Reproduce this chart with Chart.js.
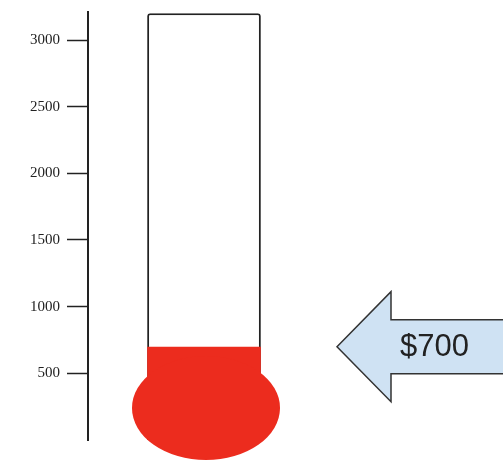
<!DOCTYPE html>
<html>
<head>
<meta charset="utf-8">
<script src="https://cdn.jsdelivr.net/npm/chart.js@4"></script>
<style>
html, body { margin: 0; padding: 0; background: #fff; }
</style>
</head>
<body>
<canvas id="thermo" width="503" height="461"></canvas>
<script>
// thermometer data
var categories = ["Fundraiser"];
var goalValues = [3200];
var raisedValues = [700];
var tickValues = [500, 1000, 1500, 2000, 2500, 3000];
var arrowLabel = "$700";

var red = "#ec2c1e";

// red bulb under the tube
var bulbPlugin = {
    id: "bulb",
    afterDatasetsDraw: function(chart){
        var bar = chart.getDatasetMeta(0).data[0];
        var y0 = chart.scales.y.getPixelForValue(0);
        var ctx = chart.ctx;
        ctx.save();
        ctx.fillStyle = red;
        ctx.beginPath();
        ctx.ellipse(bar.x + 2, y0 - 32, 74, 52, 0, 0, Math.PI * 2);
        ctx.fill();
        ctx.restore();
    }
};

// arrow pointing at the raised amount
var arrowPlugin = {
    id: "arrow",
    afterDraw: function(chart){
        var ctx = chart.ctx;
        var tipY = chart.scales.y.getPixelForValue(raisedValues[0]);
        var tipX = 337;
        var headX = 391;
        var headH = 55;
        var shaftH = 27;
        var endX = 510;

        ctx.save();
        ctx.beginPath();
        ctx.moveTo(tipX, tipY);
        ctx.lineTo(headX, tipY - headH);
        ctx.lineTo(headX, tipY - shaftH);
        ctx.lineTo(endX, tipY - shaftH);
        ctx.lineTo(endX, tipY + shaftH);
        ctx.lineTo(headX, tipY + shaftH);
        ctx.lineTo(headX, tipY + headH);
        ctx.closePath();
        ctx.fillStyle = "#cfe2f3";
        ctx.fill();
        ctx.lineWidth = 1.5;
        ctx.strokeStyle = "#333";
        ctx.stroke();

        ctx.fillStyle = "#222";
        ctx.font = "31px 'Liberation Sans', Arial, sans-serif";
        ctx.textAlign = "left";
        ctx.textBaseline = "middle";
        ctx.fillText(arrowLabel, 400, tipY + 1);
        ctx.restore();
    }
};

var ctx = document.getElementById("thermo");

var data = {
    labels: categories,
    datasets: [
        {
            label: "Raised",
            data: raisedValues,
            backgroundColor: red,
            borderWidth: 0,
            grouped: false,
            order: 0
        },
        {
            label: "Goal",
            data: goalValues,
            backgroundColor: "#ffffff",
            borderColor: "#222",
            borderWidth: 2,
            borderRadius: { topLeft: 3, topRight: 3 },
            grouped: false,
            order: 1
        }
    ]
};

var chart = new Chart(ctx, {
    type: "bar",
    data: data,
    plugins: [bulbPlugin, arrowPlugin],
    options: {
        responsive: false,
        animation: false,
        events: [],
        layout: {
            padding: { left: 0, top: 12, right: 183, bottom: 21 }
        },
        datasets: {
            bar: { barPercentage: 1, categoryPercentage: 0.49 }
        },
        plugins: {
            legend: { display: false },
            tooltip: { enabled: false }
        },
        scales: {
            x: { display: false },
            y: {
                min: 0,
                max: 3210,
                afterBuildTicks: function(scale){
                    scale.ticks = tickValues.map(function(v){ return { value: v }; });
                },
                afterFit: function(scale){
                    scale.width = 88;
                    scale.paddingTop = 0;
                    scale.paddingBottom = 0;
                },
                border: { display: true, color: "#222", width: 2 },
                grid: {
                    drawOnChartArea: false,
                    drawTicks: true,
                    tickLength: 21,
                    tickColor: "#222",
                    tickWidth: 1.5
                },
                ticks: {
                    padding: 7,
                    color: "#222",
                    font: { family: "'Liberation Serif', 'Times New Roman', serif", size: 15 },
                    callback: function(v){ return String(v); }
                }
            }
        }
    }
});
</script>
</body>
</html>
